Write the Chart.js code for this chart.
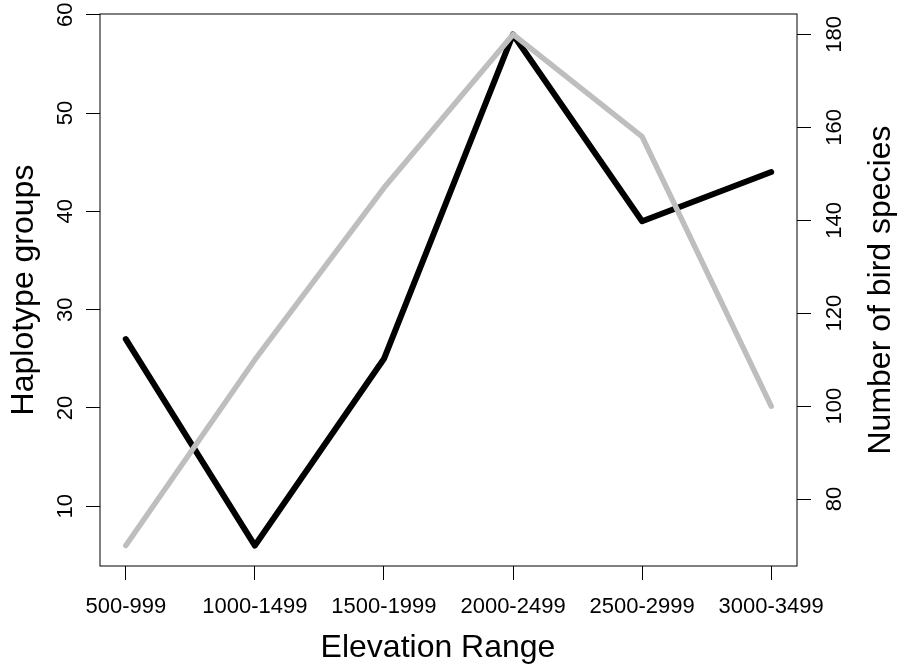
<!DOCTYPE html>
<html>
<head>
<meta charset="utf-8">
<title>Haplotype groups and bird species by elevation</title>
<script src="https://cdn.jsdelivr.net/npm/chart.js@4.4.1/dist/chart.umd.min.js"></script>
<style>
    html, body { margin: 0; padding: 0; background: #ffffff; }
    #wrap { width: 898px; height: 670px; }
</style>
</head>
<body>
<div id="wrap"><canvas id="elevation-chart" width="898" height="670"></canvas></div>
<script>
const elevationRanges = ['500-999', '1000-1499', '1500-1999', '2000-2499', '2500-2999', '3000-3499'];
const haplotypeGroups = [27, 6, 25, 58, 39, 44];
const birdSpecies = [70, 110, 147, 180, 158, 100];
const haplotypeTicks = [10, 20, 30, 40, 50, 60];
const birdTicks = [80, 100, 120, 140, 160, 180];
const categoryTicks = [1, 2, 3, 4, 5, 6];

const FONT = "'Liberation Sans', Arial, Helvetica, sans-serif";

// R style range: data range padded by 4% on each side
function paddedRange(values) {
    const lo = Math.min(...values);
    const hi = Math.max(...values);
    const pad = (hi - lo) * 0.04;
    return { min: lo - pad, max: hi + pad };
}

const xRange = paddedRange(categoryTicks);
const leftRange = paddedRange(haplotypeGroups);
const rightRange = paddedRange(birdSpecies);

function setTicks(values) {
    return function(scale) {
        scale.ticks = values.map(v => ({ value: v }));
    };
}

// only the little outside tick marks, no grid in the plot
function tickMarks() {
    return {
        display: true,
        drawOnChartArea: false,
        drawTicks: true,
        tickLength: 14,
        tickWidth: 1,
        tickColor: '#000000',
    };
}

// box, tick labels and axis titles, drawn the way base R does it
const rAxesPlugin = {
    id: 'rAxes',
    afterDraw(chart) {
        const ctx = chart.ctx;
        const area = chart.chartArea;
        const xScale = chart.scales.x;
        const yLeft = chart.scales.y;
        const yRight = chart.scales.y1;

        ctx.save();
        ctx.strokeStyle = '#000000';
        ctx.lineWidth = 1;
        ctx.strokeRect(area.left, area.top, area.right - area.left, area.bottom - area.top);

        ctx.fillStyle = '#000000';
        ctx.font = '22px ' + FONT;
        ctx.textAlign = 'center';
        ctx.textBaseline = 'alphabetic';

        categoryTicks.forEach((v, i) => {
            ctx.fillText(elevationRanges[i], xScale.getPixelForValue(v), 613);
        });

        haplotypeTicks.forEach(v => {
            ctx.save();
            ctx.translate(72, yLeft.getPixelForValue(v));
            ctx.rotate(-Math.PI / 2);
            ctx.fillText(String(v), 0, 0);
            ctx.restore();
        });

        birdTicks.forEach(v => {
            ctx.save();
            ctx.translate(841, yRight.getPixelForValue(v));
            ctx.rotate(-Math.PI / 2);
            ctx.fillText(String(v), 0, 0);
            ctx.restore();
        });

        const midY = (area.top + area.bottom) / 2;
        ctx.font = '32px ' + FONT;
        ctx.fillText('Elevation Range', 438, 657);

        ctx.save();
        ctx.translate(33, midY);
        ctx.rotate(-Math.PI / 2);
        ctx.fillText('Haplotype groups', 0, 0);
        ctx.restore();

        ctx.save();
        ctx.translate(890, midY);
        ctx.rotate(-Math.PI / 2);
        ctx.fillText('Number of bird species', 0, 0);
        ctx.restore();

        ctx.restore();
    }
};

const ctx = document.getElementById('elevation-chart').getContext('2d');

const elevationChart = new Chart(ctx, {
    type: 'line',
    data: {
        datasets: [
            {
                label: 'Number of bird species',
                data: birdSpecies.map((v, i) => ({ x: categoryTicks[i], y: v })),
                yAxisID: 'y1',
                borderColor: '#BEBEBE',
                borderWidth: 5.5,
                borderCapStyle: 'round',
                borderJoinStyle: 'round',
                pointRadius: 0,
                tension: 0,
                order: 1,
            },
            {
                label: 'Haplotype groups',
                data: haplotypeGroups.map((v, i) => ({ x: categoryTicks[i], y: v })),
                yAxisID: 'y',
                borderColor: '#000000',
                borderWidth: 6,
                borderCapStyle: 'round',
                borderJoinStyle: 'round',
                pointRadius: 0,
                tension: 0,
                order: 2,
            },
        ],
    },
    options: {
        responsive: false,
        animation: false,
        layout: { padding: { top: 14, left: 0, right: 0, bottom: 0 } },
        plugins: {
            legend: { display: false },
            tooltip: { enabled: false },
        },
        scales: {
            x: {
                type: 'linear',
                min: xRange.min,
                max: xRange.max,
                afterBuildTicks: setTicks(categoryTicks),
                afterFit: scale => { scale.height = 104; },
                grid: tickMarks(),
                border: { display: false },
                ticks: { display: false },
            },
            y: {
                type: 'linear',
                position: 'left',
                min: leftRange.min,
                max: leftRange.max,
                afterBuildTicks: setTicks(haplotypeTicks),
                afterFit: scale => { scale.width = 100; },
                grid: tickMarks(),
                border: { display: false },
                ticks: { display: false },
            },
            y1: {
                type: 'linear',
                position: 'right',
                min: rightRange.min,
                max: rightRange.max,
                afterBuildTicks: setTicks(birdTicks),
                afterFit: scale => { scale.width = 101; },
                grid: tickMarks(),
                border: { display: false },
                ticks: { display: false },
            },
        },
    },
    plugins: [rAxesPlugin],
});
</script>
</body>
</html>
